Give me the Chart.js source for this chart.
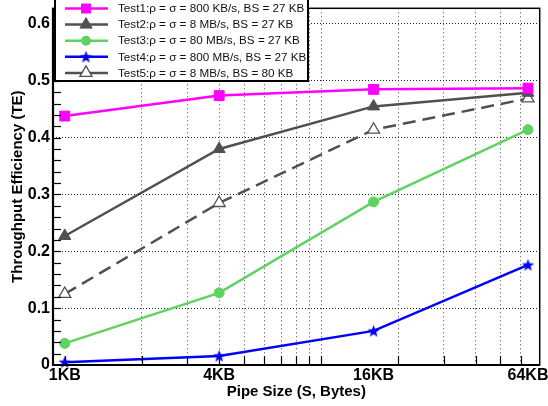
<!DOCTYPE html>
<html>
<head>
<meta charset="utf-8">
<script src="https://cdn.jsdelivr.net/npm/chart.js@4/dist/chart.umd.min.js"></script>
<style>
  html, body { margin: 0; padding: 0; background: #fff; }
  #wrap { width: 548px; height: 406px; }
</style>
</head>
<body>
<div id="wrap"><canvas id="c" width="548" height="406"></canvas></div>
<script>
// ---- data ----
const sizesKB = [1, 4, 16, 64];
const xTickLabels = ['1KB', '4KB', '16KB', '64KB'];
const yTickValues = [0, 0.1, 0.2, 0.3, 0.4, 0.5, 0.6];
const yTickLabels = ['0', '0.1', '0.2', '0.3', '0.4', '0.5', '0.6'];
const seriesNames = [
  'Test1:\u03C1 = \u03C3 = 800 KB/s, BS = 27 KB',
  'Test2:\u03C1 = \u03C3 = 8 MB/s, BS = 27 KB',
  'Test3:\u03C1 = \u03C3 = 80 MB/s, BS = 27 KB',
  'Test4:\u03C1 = \u03C3 = 800 MB/s, BS = 27 KB',
  'Test5:\u03C1 = \u03C3 = 8 MB/s, BS = 80 KB'
];
const test1 = [0.438, 0.474, 0.485, 0.487];
const test2 = [0.227, 0.380, 0.455, 0.479];
const test3 = [0.038, 0.127, 0.287, 0.414];
const test4 = [0.005, 0.016, 0.060, 0.176];
const test5 = [0.125, 0.285, 0.414, 0.469];

// ---- marker: 5 point star ----
function makeStar(color, R) {
  const s = Math.ceil(R * 2 + 2);
  const cv = document.createElement('canvas');
  cv.width = s; cv.height = s;
  const g = cv.getContext('2d');
  g.fillStyle = color;
  g.beginPath();
  for (let i = 0; i < 10; i++) {
    const r = i % 2 === 0 ? R : R * 0.42;
    const a = -Math.PI / 2 + i * Math.PI / 5;
    const px = s / 2 + r * Math.cos(a), py = s / 2 + 0.5 + r * Math.sin(a);
    i === 0 ? g.moveTo(px, py) : g.lineTo(px, py);
  }
  g.closePath();
  g.fill();
  return cv;
}
const starImg = makeStar('#0000ff', 6.5);

const xMin = 0.9, xMax = 71.1;
const minorX = [1,2,3,4,5,6,7,8,9,10,20,30,40,50,60];

function mk(label, data, color, style, extra) {
  return Object.assign({
    label,
    data: data.map((v, i) => ({ x: sizesKB[i], y: v })),
    borderColor: color,
    backgroundColor: color,
    pointBackgroundColor: color,
    pointBorderColor: color,
    borderWidth: 2.5,
    pointStyle: style,
    pointRadius: 6,
    pointHoverRadius: 6,
    pointBorderWidth: 1,
    tension: 0,
    clip: false
  }, extra || {});
}

const datasets = [
  mk(seriesNames[0], test1, '#ff00ff', 'rect', { pointRadius: 7 }),
  mk(seriesNames[1], test2, '#505050', 'triangle', { pointRadius: 7 }),
  mk(seriesNames[2], test3, '#5fd35f', 'circle', { pointRadius: 5 }),
  mk(seriesNames[3], test4, '#0000ff', starImg, {}),
  mk(seriesNames[4], test5, '#505050', 'triangle', { pointRadius: 7, pointBackgroundColor: '#ffffff', pointBorderWidth: 1.3, borderDash: [13, 7] })
];

function drawMarker(ctx, ds, x, y) {
  ctx.save();
  ctx.fillStyle = ds.pointBackgroundColor;
  ctx.strokeStyle = ds.pointBorderColor;
  ctx.lineWidth = ds.pointBorderWidth;
  ctx.setLineDash([]);
  const r = ds.pointRadius;
  const st = ds.pointStyle;
  if (st === 'rect') {
    const h = Math.SQRT1_2 * r;
    ctx.fillRect(x - h, y - h, 2 * h, 2 * h);
  } else if (st === 'circle') {
    ctx.beginPath(); ctx.arc(x, y, r, 0, Math.PI * 2); ctx.fill();
  } else if (st === 'triangle') {
    ctx.beginPath();
    ctx.moveTo(x, y - r);
    ctx.lineTo(x + r * Math.cos(Math.PI / 6), y + r / 2);
    ctx.lineTo(x - r * Math.cos(Math.PI / 6), y + r / 2);
    ctx.closePath();
    ctx.fill(); ctx.stroke();
  } else {
    ctx.drawImage(st, x - st.width / 2, y - st.height / 2);
  }
  ctx.restore();
}

const decor = {
  id: 'decor',
  afterDraw(chart) {
    const ctx = chart.ctx;
    const a = chart.chartArea;
    const xs = chart.scales.x, ys = chart.scales.y;
    ctx.save();
    // minor ticks y
    ctx.strokeStyle = '#000';
    ctx.lineWidth = 1.2;
    ctx.setLineDash([]);
    for (let k = 1; k <= 31; k++) {
      const v = k * 0.02;
      if (v > ys.max) break;
      const py = Math.round(ys.getPixelForValue(v)) + 0.5;
      ctx.beginPath(); ctx.moveTo(a.left, py); ctx.lineTo(a.left + 8, py); ctx.stroke();
    }
    // minor ticks x
    minorX.forEach(v => {
      const px = Math.round(xs.getPixelForValue(v)) + 0.5;
      ctx.beginPath(); ctx.moveTo(px, a.bottom); ctx.lineTo(px, a.bottom - 9); ctx.stroke();
    });
    // frame
    ctx.lineWidth = 1.5;
    ctx.strokeRect(a.left, a.top, a.right - a.left, a.bottom - a.top);
    ctx.lineWidth = 2.2;
    ctx.beginPath();
    ctx.moveTo(a.left, a.top); ctx.lineTo(a.left, a.bottom); ctx.lineTo(a.right, a.bottom);
    ctx.stroke();

    // legend
    const bx = 55, by = -2, bw = 253, bh = 83;
    ctx.fillStyle = '#fff';
    ctx.fillRect(bx, by, bw, bh);
    ctx.lineWidth = 2;
    ctx.strokeStyle = '#000';
    ctx.strokeRect(bx, by, bw, bh);
    ctx.font = '11.7px "Liberation Sans", Arial, sans-serif';
    ctx.textBaseline = 'middle';
    ctx.textAlign = 'left';
    chart.data.datasets.forEach((ds, i) => {
      const y = 8.5 + i * 16.1;
      ctx.save();
      ctx.strokeStyle = ds.borderColor;
      ctx.lineWidth = 2.5;
      ctx.setLineDash([]);
      ctx.beginPath(); ctx.moveTo(65, y); ctx.lineTo(108, y); ctx.stroke();
      ctx.restore();
      drawMarker(ctx, ds, 86, y);
      ctx.fillStyle = '#111';
      ctx.fillText(ds.label, 118, y + 0.5);
    });

    // axis titles
    ctx.fillStyle = '#000';
    ctx.font = 'bold 15px "Liberation Sans", Arial, sans-serif';
    ctx.textAlign = 'center';
    ctx.textBaseline = 'middle';
    ctx.fillText('Pipe Size (S, Bytes)', (a.left + a.right) / 2, 392);
    ctx.save();
    ctx.translate(18, (a.top + a.bottom) / 2);
    ctx.rotate(-Math.PI / 2);
    ctx.fillText('Throughput Efficiency (TE)', 0, 0);
    ctx.restore();
    ctx.restore();
  }
};

new Chart(document.getElementById('c'), {
  type: 'line',
  data: { datasets },
  options: {
    responsive: false,
    animation: false,
    events: [],
    layout: { padding: { left: 0, top: 1, right: 6, bottom: 0 } },
    plugins: { legend: { display: false }, tooltip: { enabled: false } },
    scales: {
      x: {
        type: 'logarithmic',
        min: xMin, max: xMax,
        afterBuildTicks(s) {
          const vals = minorX.concat([16, 64]).sort((p, q) => p - q);
          s.ticks = vals.map(v => ({ value: v }));
        },
        afterFit(s) { s.height = 41; s.paddingLeft = 0; s.paddingRight = 0; },
        grid: {
          drawTicks: false,
          color: c => (c.tick && (c.tick.value === 16 || c.tick.value === 64 || c.tick.value === 1)) ? 'rgba(0,0,0,0)' : '#444',
          lineWidth: 1
        },
        border: { display: false, dash: [1, 3] },
        ticks: {
          autoSkip: false,
          maxRotation: 0,
          padding: 1,
          color: '#000',
          font: { family: '"Liberation Sans", Arial, sans-serif', size: 16, weight: 'bold' },
          callback: v => { const i = sizesKB.indexOf(v); return i >= 0 ? xTickLabels[i] : ''; }
        }
      },
      y: {
        type: 'linear',
        min: 0, max: 0.6276,
        afterBuildTicks(s) { s.ticks = yTickValues.map(v => ({ value: v })); },
        afterFit(s) { s.width = 53; s.paddingTop = 0; s.paddingBottom = 0; },
        grid: {
          drawTicks: false,
          color: c => (c.tick && c.tick.value === 0) ? 'rgba(0,0,0,0)' : '#222',
          lineWidth: 1
        },
        border: { display: false, dash: [1, 2] },
        ticks: {
          padding: 3,
          color: '#000',
          font: { family: '"Liberation Sans", Arial, sans-serif', size: 16, weight: 'bold' },
          callback: v => { const i = yTickValues.findIndex(t => Math.abs(t - v) < 1e-9); return i >= 0 ? yTickLabels[i] : ''; }
        }
      }
    }
  },
  plugins: [decor]
});
</script>
</body>
</html>
